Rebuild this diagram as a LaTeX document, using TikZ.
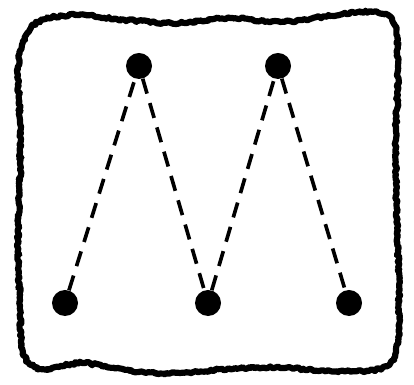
\documentclass[tikz,border=0pt]{standalone}
\usetikzlibrary{decorations.pathmorphing}

\begin{document}
\begin{tikzpicture}[x=0.025cm, y=-0.025cm]
  \tikzstyle{dot}=[circle, fill=black, inner sep=0pt, minimum size=0.65cm]
  \tikzstyle{link}=[line width=2.6pt, dash pattern=on 11pt off 7pt]
  \tikzstyle{frame}=[line width=4.4pt, line join=round, decorate, decoration={random steps, segment length=1.5pt, amplitude=0.9pt}]
  \useasboundingbox (0,0) rectangle (414,385);
  % rough outline
  \draw[frame] plot[smooth cycle, tension=0.6] coordinates {
    (22,45) (38,22) (75,15) (125,20) (180,23) (230,18) (280,22) (330,16) (372,12)
    (394,24) (398,70) (396,130) (396,190) (398,250) (399,310) (396,352) (380,369)
    (330,371) (285,368) (235,368) (180,373) (130,371) (82,363) (42,369) (23,352)
    (20,300) (18,240) (20,180) (20,120) (18,75)};
  % dots
  \node[dot] (bl) at (65,303) {};
  \node[dot] (tl) at (139,66) {};
  \node[dot] (bm) at (208,303) {};
  \node[dot] (tr) at (278,66) {};
  \node[dot] (br) at (349,303) {};
  % zig-zag
  \draw[link] (bl) -- (tl) -- (bm) -- (tr) -- (br);
\end{tikzpicture}
\end{document}
